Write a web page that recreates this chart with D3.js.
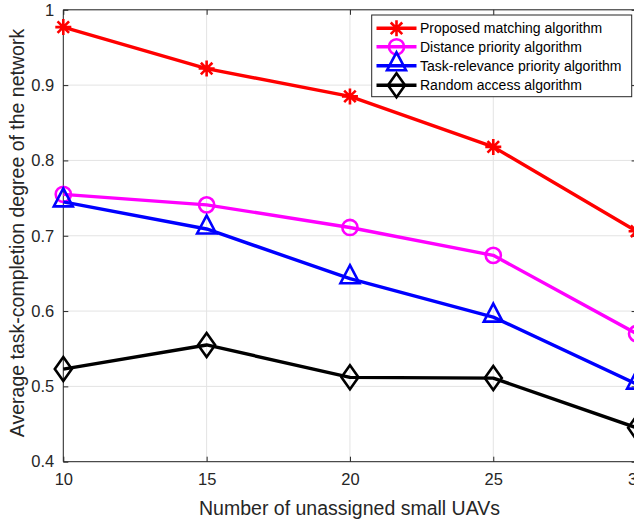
<!DOCTYPE html>
<html>
<head>
<meta charset="utf-8">
<script src="https://cdn.jsdelivr.net/npm/d3@7"></script>
<style>
  html, body { margin: 0; padding: 0; background: #ffffff; }
  svg { display: block; font-family: Arial, "Liberation Sans", Helvetica, sans-serif; }
</style>
</head>
<body>
<svg id="chart" width="634" height="520"></svg>
<script>
// Number of unassigned small UAVs
const uavCounts = [10, 15, 20, 25, 30];

// Average task-completion degree for each algorithm
const proposedMatching = [0.977, 0.922, 0.885, 0.818, 0.706];
const distancePriority = [0.755, 0.741, 0.711, 0.674, 0.570];
const taskRelevancePriority = [0.745, 0.709, 0.643, 0.592, 0.503];
const randomAccess = [0.523, 0.555, 0.512, 0.511, 0.445];

const seriesNames = [
  "Proposed matching algorithm",
  "Distance priority algorithm",
  "Task-relevance priority algorithm",
  "Random access algorithm"
];

const xTicks = [10, 15, 20, 25, 30];
const yTicks = [0.4, 0.5, 0.6, 0.7, 0.8, 0.9, 1];
const xLabel = "Number of unassigned small UAVs";
const yLabel = "Average task-completion degree of the network";

const series = [
  { name: seriesNames[0], values: proposedMatching, color: "#ff0000", marker: "asterisk" },
  { name: seriesNames[1], values: distancePriority, color: "#ff00ff", marker: "circle" },
  { name: seriesNames[2], values: taskRelevancePriority, color: "#0000ff", marker: "triangle" },
  { name: seriesNames[3], values: randomAccess, color: "#000000", marker: "diamond" }
];

const svg = d3.select("#chart");
const axisColor = "#262626";

const plot = { left: 63.3, right: 636.6, top: 9.8, bottom: 461.7 };

const x = d3.scaleLinear().domain([10, 30]).range([plot.left, plot.right]);
const y = d3.scaleLinear().domain([0.4, 1]).range([plot.bottom, plot.top]);

// grid
const grid = svg.append("g");
grid.selectAll("line.gx").data(xTicks).join("line")
  .attr("x1", d => x(d)).attr("x2", d => x(d))
  .attr("y1", plot.top).attr("y2", plot.bottom)
  .attr("stroke", "#e3e3e3").attr("stroke-width", 1);
grid.selectAll("line.gy").data(yTicks).join("line")
  .attr("x1", plot.left).attr("x2", plot.right)
  .attr("y1", d => y(d)).attr("y2", d => y(d))
  .attr("stroke", "#e3e3e3").attr("stroke-width", 1);

// axes (ticks pointing inward, box style)
const tickLen = 5;
const fmtY = d => d === 1 ? "1" : d3.format(".1f")(d);

const xAxisBottom = d3.axisBottom(x).tickValues(xTicks).tickSize(-tickLen).tickPadding(12).tickFormat(d3.format("d"));
const xAxisTop = d3.axisTop(x).tickValues(xTicks).tickSize(-tickLen).tickFormat("");
const yAxisLeft = d3.axisLeft(y).tickValues(yTicks).tickSize(-tickLen).tickPadding(9).tickFormat(fmtY);
const yAxisRight = d3.axisRight(y).tickValues(yTicks).tickSize(-tickLen).tickFormat("");

function styleAxis(g) {
  g.select(".domain").attr("stroke", axisColor).attr("stroke-width", 1);
  g.selectAll(".tick line").attr("stroke", axisColor).attr("stroke-width", 1);
  g.selectAll(".tick text").attr("fill", axisColor).attr("font-size", 16.5)
    .attr("font-family", "Arial, 'Liberation Sans', sans-serif");
}

svg.append("g").attr("transform", `translate(0,${plot.bottom})`).call(xAxisBottom).call(styleAxis)
  .call(g => g.select(".domain").attr("d", `M${plot.left},0H${plot.right}`));
svg.append("g").attr("transform", `translate(0,${plot.top})`).call(xAxisTop).call(styleAxis)
  .call(g => g.select(".domain").attr("d", `M${plot.left},0H${plot.right}`));
svg.append("g").attr("transform", `translate(${plot.left},0)`).call(yAxisLeft).call(styleAxis)
  .call(g => g.select(".domain").attr("d", `M0,${plot.top}V${plot.bottom}`));
svg.append("g").attr("transform", `translate(${plot.right},0)`).call(yAxisRight).call(styleAxis)
  .call(g => g.select(".domain").attr("d", `M0,${plot.top}V${plot.bottom}`));

// axis titles
svg.append("text")
  .attr("x", 349.5).attr("y", 514.5)
  .attr("text-anchor", "middle").attr("font-size", 19.5).attr("fill", axisColor)
  .text(xLabel);
svg.append("text")
  .attr("transform", `translate(24,233) rotate(-90)`)
  .attr("text-anchor", "middle").attr("font-size", 19.5).attr("fill", axisColor)
  .text(yLabel);

// marker drawing
function drawMarker(g, type, color) {
  const sw = 2.6;
  if (type === "asterisk") {
    const r = 8, d = r * 0.72;
    g.append("path")
      .attr("d", `M${-r},0H${r}M0,${-r}V${r}M${-d},${-d}L${d},${d}M${-d},${d}L${d},${-d}`)
      .attr("stroke", color).attr("stroke-width", sw).attr("fill", "none");
  } else if (type === "circle") {
    g.append("circle").attr("r", 7.6)
      .attr("stroke", color).attr("stroke-width", sw).attr("fill", "none");
  } else if (type === "triangle") {
    g.append("path").attr("d", "M0,-13.5L9.5,4.5L-9.5,4.5Z")
      .attr("stroke", color).attr("stroke-width", sw).attr("fill", "none")
      .attr("stroke-linejoin", "miter");
  } else if (type === "diamond") {
    g.append("path").attr("d", "M0,-12L8.5,0L0,12L-8.5,0Z")
      .attr("stroke", color).attr("stroke-width", sw).attr("fill", "none")
      .attr("stroke-linejoin", "miter");
  }
}

const line = d3.line().x((d, i) => x(uavCounts[i])).y(d => y(d));

const plotG = svg.append("g");
series.forEach(s => {
  plotG.append("path").datum(s.values)
    .attr("d", line)
    .attr("fill", "none").attr("stroke", s.color).attr("stroke-width", 3.4)
    .attr("stroke-linejoin", "round");
  s.values.forEach((v, i) => {
    const mg = plotG.append("g").attr("transform", `translate(${x(uavCounts[i])},${y(v)})`);
    drawMarker(mg, s.marker, s.color);
  });
});

// legend
const legend = svg.append("g");
const lg = { x: 371.7, y: 15, w: 260, h: 81.7 };
legend.append("rect")
  .attr("x", lg.x).attr("y", lg.y).attr("width", lg.w).attr("height", lg.h)
  .attr("fill", "#ffffff").attr("stroke", axisColor).attr("stroke-width", 1);
const rowY = [28.3, 46.8, 65.8, 85.3];
series.forEach((s, i) => {
  const row = legend.append("g").attr("transform", `translate(0,${rowY[i]})`);
  row.append("line").attr("x1", 376.5).attr("x2", 416.5).attr("y1", 0).attr("y2", 0)
    .attr("stroke", s.color).attr("stroke-width", 3.4);
  const mg = row.append("g").attr("transform", "translate(396.5,0)");
  drawMarker(mg, s.marker, s.color);
  row.append("text").attr("x", 420).attr("y", 0).attr("dy", "0.35em")
    .attr("font-size", 14).attr("fill", "#000000").text(s.name);
});
</script>
</body>
</html>
